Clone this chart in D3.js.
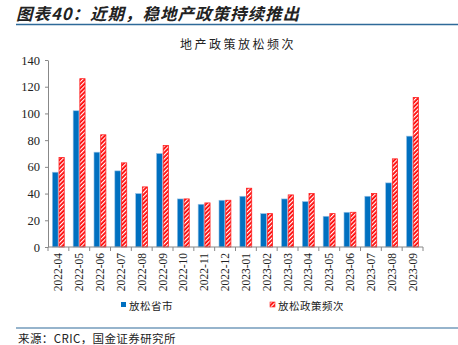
<!DOCTYPE html>
<html><head><meta charset="utf-8">
<script src="https://cdn.jsdelivr.net/npm/d3@7"></script>
<style>body{margin:0;background:#fff}svg{display:block}</style>
</head><body>
<svg id="c" width="458" height="345"></svg>
<script>
const categories = ["2022-04","2022-05","2022-06","2022-07","2022-08","2022-09","2022-10","2022-11","2022-12","2023-01","2023-02","2023-03","2023-04","2023-05","2023-06","2023-07","2023-08","2023-09"];
const provinces = [56,102,71,57,40,70,36,32,35,38,25,36,34,23,26,38,48,83];
const policies = [67,126,84,63,45,76,36,33,35,44,25,39,40,25,26,40,66,112];
const yTicks = [0,20,40,60,80,100,120,140];
const seriesNames = ["放松省市","放松政策频次"];

const svg = d3.select("#c");
const defs = svg.append("defs");
const pat = defs.append("pattern").attr("id","stripe").attr("patternUnits","userSpaceOnUse")
  .attr("width",3).attr("height",3).attr("patternTransform","rotate(45)");
pat.append("rect").attr("width",3).attr("height",3).attr("fill","#ff0000");
pat.append("rect").attr("width",1.2).attr("height",3).attr("fill","#fff");

const cjk = "'Noto Sans CJK SC', sans-serif";
const serif = "'Liberation Serif', 'Times New Roman', serif";

svg.append("text").attr("x",16).attr("y",19.5).attr("font-family",cjk).attr("font-weight","bold")
  .attr("font-style","italic").attr("font-size",16.5).attr("letter-spacing",1).attr("fill","#222").text("图表40：近期，稳地产政策持续推出");
svg.append("line").attr("x1",16).attr("x2",458).attr("y1",24.5).attr("y2",24.5).attr("stroke","#2e6a99").attr("stroke-width",1.5);
svg.append("text").attr("x",238).attr("y",49).attr("text-anchor","middle").attr("font-family",cjk)
  .attr("font-size",12).attr("letter-spacing",2.5).attr("fill","#222").text("地产政策放松频次");

const x = d3.scaleBand().domain(categories).range([48,423]);
const y = d3.scaleLinear().domain([0,140]).range([247,60]);

const yAxis = svg.append("g").attr("transform","translate(48,0)")
  .call(d3.axisLeft(y).tickValues(yTicks).tickSize(3).tickSizeOuter(0));
yAxis.selectAll("text").attr("font-family",serif).attr("font-size",12.5).attr("fill","#222").attr("dx","-2");
yAxis.selectAll("path,line").attr("stroke","#888");

const bw = 5.8;
const g = svg.append("g");
g.selectAll(".b").data(categories).join("rect")
  .attr("x",d=>x(d)+x.bandwidth()/2-bw-0.3).attr("y",(d,i)=>y(provinces[i]))
  .attr("width",bw).attr("height",(d,i)=>y(0)-y(provinces[i]))
  .attr("fill","#0070c0").attr("stroke","#9cc3e6").attr("stroke-width",0.6);
g.selectAll(".r").data(categories).join("rect")
  .attr("x",d=>x(d)+x.bandwidth()/2+0.6).attr("y",(d,i)=>y(policies[i]))
  .attr("width",bw-0.6).attr("height",(d,i)=>y(0)-y(policies[i]))
  .attr("fill","url(#stripe)").attr("stroke","#ff2020").attr("stroke-width",0.8);

const xAxis = svg.append("g").attr("transform","translate(0,247)");
xAxis.append("line").attr("x1",48).attr("x2",423).attr("stroke","#888");
xAxis.selectAll(".t").data(d3.range(categories.length+1)).join("line")
  .attr("x1",i=>48+i*x.step()).attr("x2",i=>48+i*x.step()).attr("y1",0).attr("y2",4).attr("stroke","#888");
xAxis.selectAll("text").data(categories).join("text")
  .attr("transform",d=>`translate(${x(d)+x.bandwidth()/2+4},6) rotate(-90)`)
  .attr("text-anchor","end").attr("font-family",serif).attr("font-size",11.5).attr("fill","#222").text(d=>d);

const leg = svg.append("g");
leg.append("rect").attr("x",121).attr("y",302).attr("width",5).attr("height",5).attr("fill","#0070c0");
leg.append("text").attr("x",129).attr("y",309.5).attr("font-family",cjk).attr("font-size",10.5).attr("letter-spacing",0.5).attr("fill","#222").text(seriesNames[0]);
leg.append("rect").attr("x",270).attr("y",302).attr("width",5).attr("height",5).attr("fill","url(#stripe)").attr("stroke","#ff2020").attr("stroke-width",0.6);
leg.append("text").attr("x",278).attr("y",309.5).attr("font-family",cjk).attr("font-size",10.5).attr("letter-spacing",0.5).attr("fill","#222").text(seriesNames[1]);

svg.append("line").attr("x1",16).attr("x2",458).attr("y1",328).attr("y2",328).attr("stroke","#2e6a99").attr("stroke-width",1.2);
svg.append("text").attr("x",18).attr("y",343).attr("font-family",cjk).attr("font-size",11.5).attr("letter-spacing",0.4).attr("fill","#222").text("来源：CRIC，国金证券研究所");
</script>
</body></html>
